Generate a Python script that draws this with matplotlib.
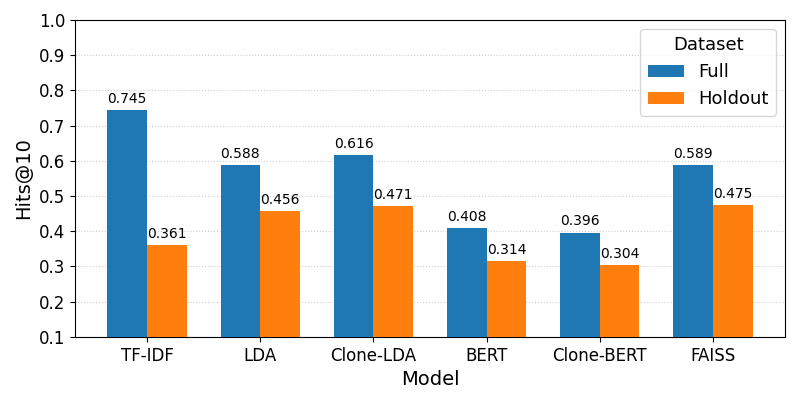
import numpy as np
import matplotlib
matplotlib.use('Agg')
from matplotlib import pyplot as plt

models = ['TF-IDF', 'LDA', 'Clone-LDA', 'BERT', 'Clone-BERT', 'FAISS']
full = [0.745, 0.588, 0.616, 0.408, 0.396, 0.589]
holdout = [0.361, 0.456, 0.471, 0.314, 0.304, 0.475]

x = np.arange(len(models))
w = 0.35

fig, ax = plt.subplots(figsize=(8, 4), dpi=100)
b1 = ax.bar(x - w / 2, full, w, label='Full', color='#1f77b4', zorder=3)
b2 = ax.bar(x + w / 2, holdout, w, label='Holdout', color='#ff7f0e', zorder=3)

for bars in (b1, b2):
    for b in bars:
        h = b.get_height()
        ax.annotate(f'{h:.3f}', (b.get_x() + b.get_width() / 2, h),
                    xytext=(0, 3), textcoords='offset points',
                    ha='center', va='bottom', fontsize=10)

ax.set_ylim(0.1, 1.0)
ax.set_yticks(np.arange(0.1, 1.01, 0.1))
ax.set_xticks(x)
ax.set_xticklabels(models, fontsize=12)
ax.tick_params(axis='y', labelsize=12)
ax.set_xlabel('Model', fontsize=14)
ax.set_ylabel('Hits@10', fontsize=14)
ax.grid(axis='y', linestyle=':', alpha=0.6, zorder=0)
ax.legend(title='Dataset', fontsize=13, title_fontsize=13, loc='upper right')

plt.subplots_adjust(left=0.094, right=0.981, top=0.95, bottom=0.158)
plt.savefig('out.png')
